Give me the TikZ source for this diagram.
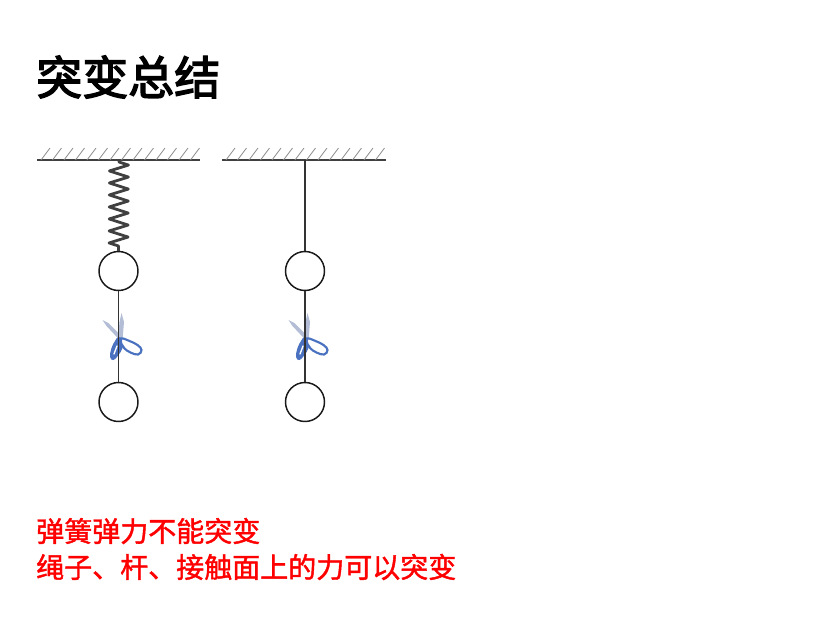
\documentclass[tikz,border=0pt]{standalone}
\usepackage{fontspec}
\newfontfamily\cjkfb[FakeBold=3]{Noto Sans CJK SC}
\newfontfamily\cjkrb[FakeBold=1.5]{Noto Sans CJK SC}
\usetikzlibrary{decorations.pathmorphing,calc}
\definecolor{bladec}{HTML}{B3BED6}
\definecolor{handc}{HTML}{4A72C0}
\begin{document}
\begin{tikzpicture}[x=0.75pt,y=-0.75pt,
  ceil/.style={draw=black!75,line width=1.6pt},
  hatch/.style={draw=black!45,line width=0.6pt},
  rope/.style={draw=black!80,line width=1.1pt},
  ball/.style={draw=black!90,line width=1.1pt,fill=white},
  blade/.style={fill=bladec,draw=none},
  handle/.style={fill=handc,draw=none},
  redtxt/.style={text=red,font=\cjkrb\fontsize{21pt}{24pt}\selectfont,anchor=west,inner sep=0pt}]
\useasboundingbox (0,0) rectangle (838,629);
\fill[white] (0,0) rectangle (838,629);
% title
\node[anchor=west,inner sep=0pt,font=\cjkfb\fontsize{34.5pt}{40pt}\selectfont] (title) at (36,77) {突变总结};
% ceilings
\foreach \xa/\xb [count=\i] in {37/200,222/386}{
  \coordinate (cl\i) at (\xa,160);
  \coordinate (cr\i) at (\xb,160);
  \draw[ceil] (cl\i) -- (cr\i);
  \foreach \h in {0,...,13}{
    \draw[hatch] ($(cl\i)+(\h*11.5+4,0)$) -- ++(9,-12);
  }
}
% anchors
\coordinate (s1) at (119,160);
\coordinate (s2) at (305,160);
% balls
\node[ball,circle,minimum size=39*0.75pt,inner sep=0pt] (b1) at (118.5,271) {};
\node[ball,circle,minimum size=39*0.75pt,inner sep=0pt] (b2) at (118.5,402) {};
\node[ball,circle,minimum size=39*0.75pt,inner sep=0pt] (b3) at (305,271) {};
\node[ball,circle,minimum size=39*0.75pt,inner sep=0pt] (b4) at (305,402) {};
% spring
\draw[draw=black!75,line width=2.1pt,line join=round,decorate,decoration={zigzag,segment length=12*0.75pt,amplitude=9.5*0.75pt,pre length=1.5pt,post length=0.5pt}] (s1) -- (b1.north);
% rope
\draw[rope] (s2) -- (b3.north);
% scissors
\foreach \px/\py [count=\k] in {119.5/340,305.5/340}{
  \begin{scope}[shift={(\px,\py)}]
    \fill[blade] (1.5,1.5) -- (-13,-14) -- (-17,-20) -- (-11,-17) -- (3,-3) -- cycle;
    \fill[blade] (-1.5,0) -- (0,-18) -- (2,-27) -- (4.5,-18) -- (3,0) -- cycle;
    \fill[handle] plot[smooth cycle,tension=0.7] coordinates {(-1,-3) (4,0) (3,8) (-1,15) (-6,20) (-9.5,17) (-8,8) (-4.5,1)};
    \draw[white,line width=1pt,line cap=round] (-2.5,6) -- (-5.5,14);
    \draw[draw=handc,line width=1.6pt,fill=white] plot[smooth cycle,tension=0.7] coordinates {(2,-1.5) (10,1) (18,5) (22,10) (18.5,14.5) (11,12.5) (5,8.5) (2,4)};
  \end{scope}
}
% connecting lines (drawn over scissors)
\draw[rope] (b1.south) -- (b2.north);
\draw[rope] (b3.south) -- (b4.north);
% red text
\node[redtxt] (t1) at (36,531) {弹簧弹力不能突变};
\node[redtxt] (t2) at (36,567) {绳子、杆、接触面上的力可以突变};
\end{tikzpicture}
\end{document}
